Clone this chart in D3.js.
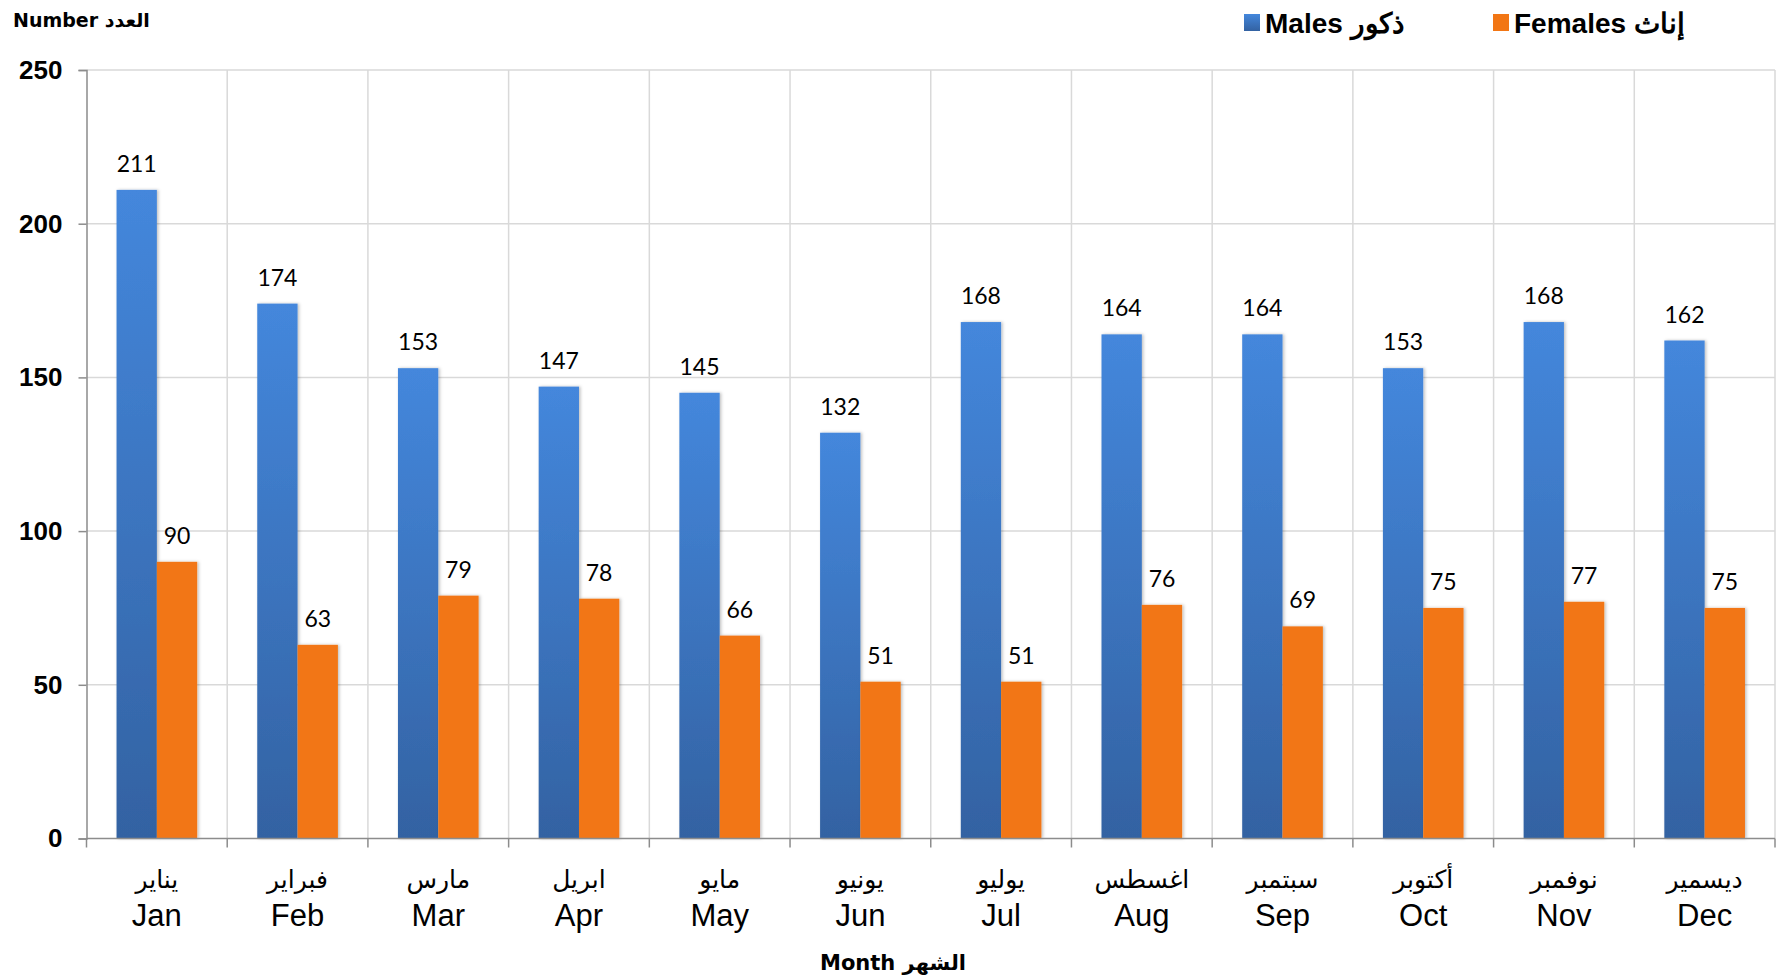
<html>
<head>
<meta charset="utf-8">
<script src="https://d3js.org/d3.v7.min.js"></script>
<style>
body{margin:0;background:#fff}
</style>
</head>
<body>
<svg width=1782 height=979></svg>
<script>
const monthsEn=["Jan","Feb","Mar","Apr","May","Jun","Jul","Aug","Sep","Oct","Nov","Dec"]
const monthsAr=["يناير","فبراير","مارس","ابريل","مايو","يونيو","يوليو","اغسطس","سبتمبر","أكتوبر","نوفمبر","ديسمير"]
const males=[211,174,153,147,145,132,168,164,164,153,168,162]
const females=[90,63,79,78,66,51,51,76,69,75,77,75]
const yTicks=[0,50,100,150,200,250]

const svg=d3.select("svg")
const plotL=86.5, plotR=1775, plotT=70, plotB=838.5

const xs=d3.scaleBand().domain(monthsEn).range([plotL,plotR]).padding(0)
const xin=d3.scaleBand().domain(["m","f"]).range([0,xs.bandwidth()]).paddingInner(0).paddingOuter(0.745)
const ys=d3.scaleLinear().domain([0,250]).range([plotB,plotT])

const defs=svg.append("defs")
const grad=defs.append("linearGradient").attr("id","blueGrad").attr("x1",0).attr("y1",0).attr("x2",0).attr("y2",1)
grad.append("stop").attr("offset","0%").attr("stop-color","#4487dc")
grad.append("stop").attr("offset","100%").attr("stop-color","#3362a2")
const sh=defs.append("filter").attr("id","shadow").attr("x","-20%").attr("y","-5%").attr("width","140%").attr("height","110%")
sh.append("feDropShadow").attr("dx",1.5).attr("dy",0).attr("stdDeviation",1.5).attr("flood-color","#000").attr("flood-opacity",0.25)

// gridlines
svg.append("g").selectAll("line").data(yTicks.filter(d=>d>0)).enter().append("line")
  .attr("x1",plotL).attr("x2",plotR).attr("y1",d=>ys(d)).attr("y2",d=>ys(d))
  .attr("stroke","#d9d9d9").attr("stroke-width",1.5)
svg.append("g").selectAll("line").data(monthsEn).enter().append("line")
  .attr("x1",d=>xs(d)+xs.bandwidth()).attr("x2",d=>xs(d)+xs.bandwidth())
  .attr("y1",plotT).attr("y2",plotB)
  .attr("stroke","#d9d9d9").attr("stroke-width",1.5)

// bars
const g=svg.append("g")
g.selectAll(".m").data(males).enter().append("rect")
  .attr("x",(d,i)=>xs(monthsEn[i])+xin("m"))
  .attr("y",d=>ys(d)).attr("width",xin.bandwidth()).attr("height",d=>plotB-ys(d))
  .attr("fill","url(#blueGrad)").attr("filter","url(#shadow)")
g.selectAll(".f").data(females).enter().append("rect")
  .attr("x",(d,i)=>xs(monthsEn[i])+xin("f"))
  .attr("y",d=>ys(d)).attr("width",xin.bandwidth()).attr("height",d=>plotB-ys(d))
  .attr("fill","#f27614").attr("filter","url(#shadow)")

// value labels
const lab={"font-family":"Lato, 'Open Sans', sans-serif","font-size":"23px","fill":"#000","text-anchor":"middle"}
function applyAttrs(sel,o){for(const k in o) sel.attr(k,o[k]);return sel}
applyAttrs(g.selectAll(".ml").data(males).enter().append("text")
  .attr("x",(d,i)=>xs(monthsEn[i])+xin("m")+xin.bandwidth()/2)
  .attr("y",d=>ys(d)-18).text(d=>d),lab)
applyAttrs(g.selectAll(".fl").data(females).enter().append("text")
  .attr("x",(d,i)=>xs(monthsEn[i])+xin("f")+xin.bandwidth()/2)
  .attr("y",d=>ys(d)-18).text(d=>d),lab)

// axes
const yAxis=d3.axisLeft(ys).tickValues(yTicks).tickSize(8).tickPadding(16)
const ya=svg.append("g").attr("transform","translate("+plotL+",0)").call(yAxis)
ya.select(".domain").attr("stroke","#8c8c8c").attr("stroke-width",1.5)
ya.selectAll(".tick line").attr("stroke","#8c8c8c").attr("stroke-width",1.5)
ya.selectAll(".tick text").attr("font-family","'Liberation Sans', Arial, sans-serif")
  .attr("font-size","26px").attr("font-weight","bold").attr("fill","#000")

const xa=svg.append("g").attr("transform","translate(0,"+plotB+")")
xa.append("line").attr("x1",plotL).attr("x2",plotR).attr("stroke","#8c8c8c").attr("stroke-width",1.5)
xa.selectAll(".tk").data(monthsEn).enter().append("line")
  .attr("x1",d=>xs(d)+xs.bandwidth()).attr("x2",d=>xs(d)+xs.bandwidth())
  .attr("y1",0).attr("y2",9).attr("stroke","#8c8c8c").attr("stroke-width",1.5)
xa.append("line").attr("x1",plotL).attr("x2",plotL).attr("y1",0).attr("y2",9).attr("stroke","#8c8c8c").attr("stroke-width",1.5)
xa.selectAll(".ar").data(monthsAr).enter().append("text")
  .attr("x",(d,i)=>xs(monthsEn[i])+xs.bandwidth()/2).attr("y",49)
  .attr("text-anchor","middle").attr("font-family","'Liberation Sans', 'DejaVu Sans', sans-serif")
  .attr("font-size","25px").attr("fill","#000").text(d=>d)
xa.selectAll(".en").data(monthsEn).enter().append("text")
  .attr("x",d=>xs(d)+xs.bandwidth()/2).attr("y",87)
  .attr("text-anchor","middle").attr("font-family","'Liberation Sans', Arial, sans-serif")
  .attr("font-size","31px").attr("fill","#000").text(d=>d)

// titles
svg.append("text").attr("x",13).attr("y",27).attr("font-family","'DejaVu Sans', sans-serif")
  .attr("font-size","19px").attr("font-weight","bold").text("Number العدد")
svg.append("text").attr("x",893).attr("y",970).attr("text-anchor","middle").attr("font-family","'DejaVu Sans', sans-serif")
  .attr("font-size","21px").attr("font-weight","bold").text("Month الشهر")

// legend
const legend=[{name:"Males ذكور",fill:"url(#blueGrad)",x:1244},{name:"Females إناث",fill:"#f27614",x:1493}]
const lg=svg.append("g").selectAll("g").data(legend).enter().append("g")
lg.append("rect").attr("x",d=>d.x).attr("y",14).attr("width",16).attr("height",17).attr("fill",d=>d.fill)
lg.append("text").attr("x",d=>d.x+21).attr("y",33).attr("font-family","'Liberation Sans', Arial, sans-serif")
  .attr("font-size","28px").attr("font-weight","bold").text(d=>d.name)
</script>
</body>
</html>
